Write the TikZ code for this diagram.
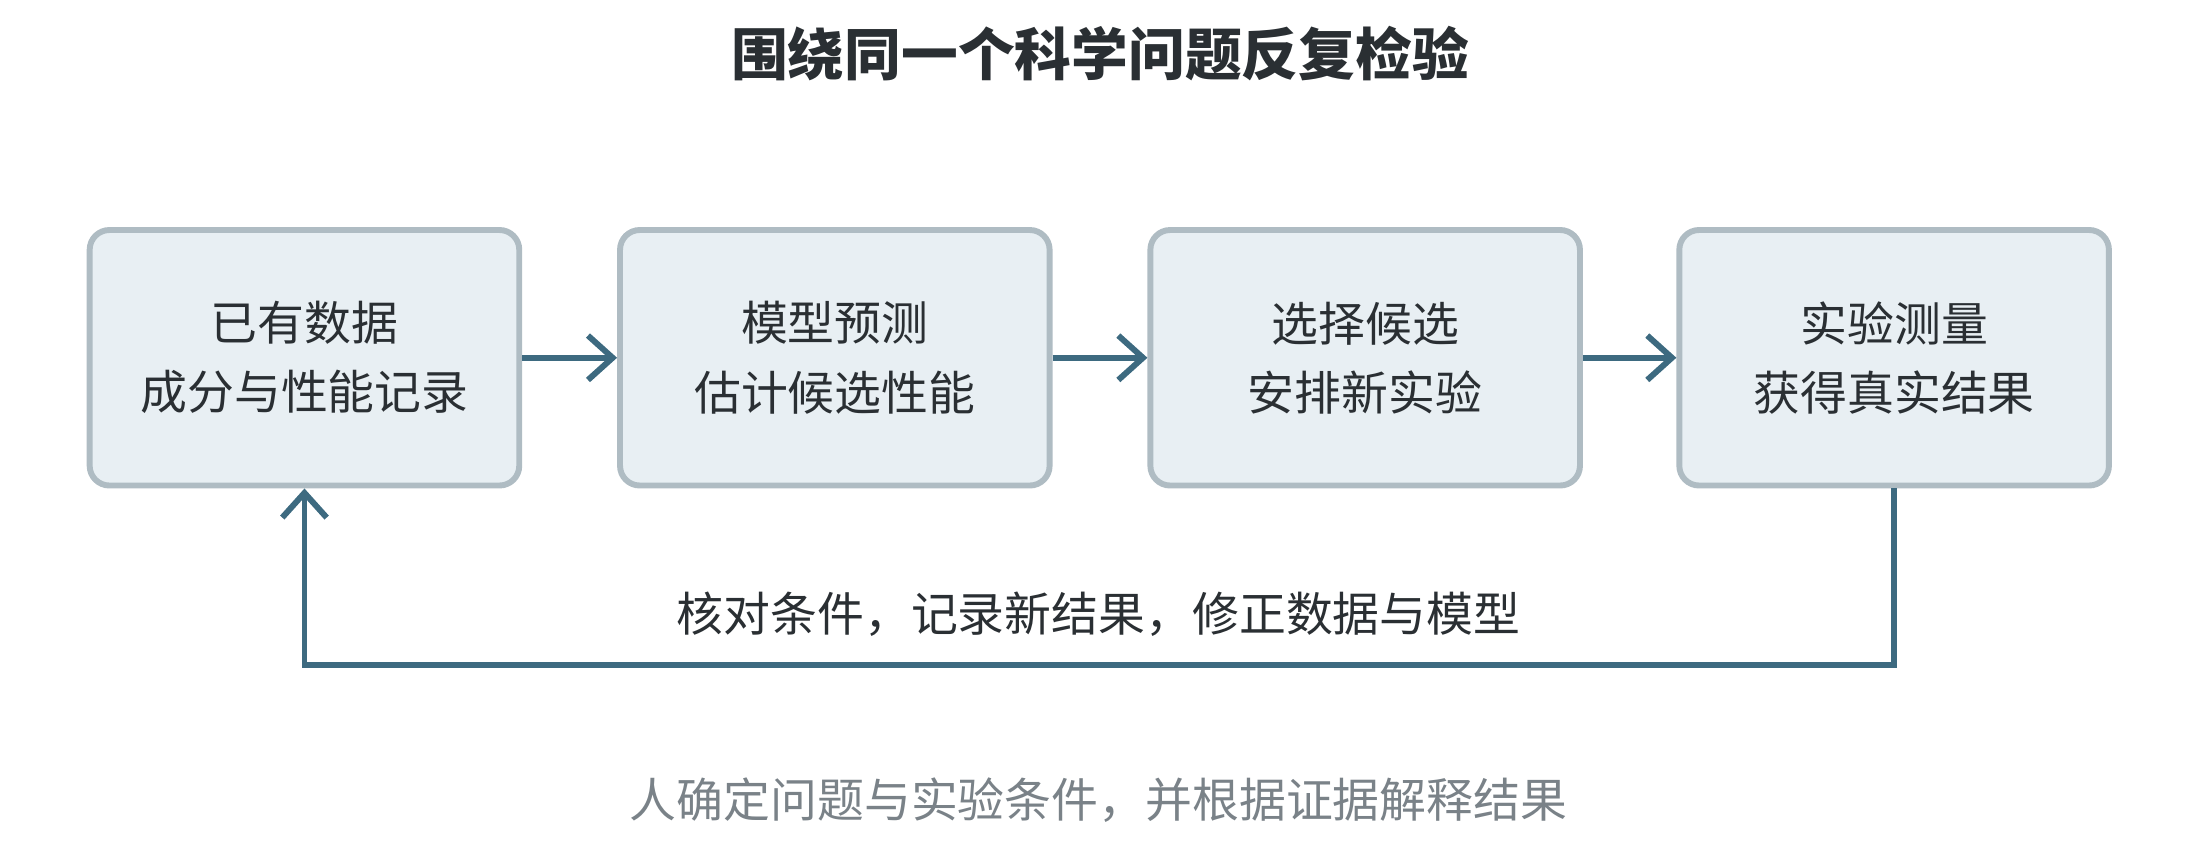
\documentclass[tikz,border=0pt]{standalone}
\usepackage{fontspec}
\setmainfont{Noto Sans CJK SC}
\usetikzlibrary{arrows.meta}
\definecolor{boxfill}{HTML}{E8EFF3}
\definecolor{boxline}{HTML}{AFBCC3}
\definecolor{arr}{HTML}{3D6A80}
\definecolor{txt}{HTML}{2A2F33}
\definecolor{gray}{HTML}{7A8288}
\begin{document}
\begin{tikzpicture}[x=0.01cm,y=-0.01cm,
  box/.style={draw=boxline,fill=boxfill,line width=1.2pt,rounded corners=4pt,minimum width=3.06cm,minimum height=1.82cm,align=center,font=\fontsize{9.5pt}{14pt}\selectfont,text=txt},
  conn/.style={draw=arr,line width=1.2pt,-{Straight Barb[length=5pt,width=9pt]}}]
\useasboundingbox (0,0) rectangle (1568,613);
\node[font=\bfseries\fontsize{11.5pt}{14pt}\selectfont,text=txt] (title) at (784,38) {围绕同一个科学问题反复检验};
\node[box] (a) at (217,255) {已有数据\\成分与性能记录};
\node[box] (b) at (595,255) {模型预测\\估计候选性能};
\node[box] (c) at (973,255) {选择候选\\安排新实验};
\node[box] (d) at (1350,255) {实验测量\\获得真实结果};
\draw[conn] (a) -- (b);
\draw[conn] (b) -- (c);
\draw[conn] (c) -- (d);
\coordinate (p1) at (1350,474);
\coordinate (p2) at (217,474);
\draw[conn] (d.south) -- (p1) -- (p2) -- (a.south);
\node[font=\fontsize{9.5pt}{12pt}\selectfont,text=txt] (lab) at (783,438) {核对条件，记录新结果，修正数据与模型};
\node[font=\fontsize{9.5pt}{12pt}\selectfont,text=gray] (foot) at (783,570) {人确定问题与实验条件，并根据证据解释结果};
\end{tikzpicture}
\end{document}
